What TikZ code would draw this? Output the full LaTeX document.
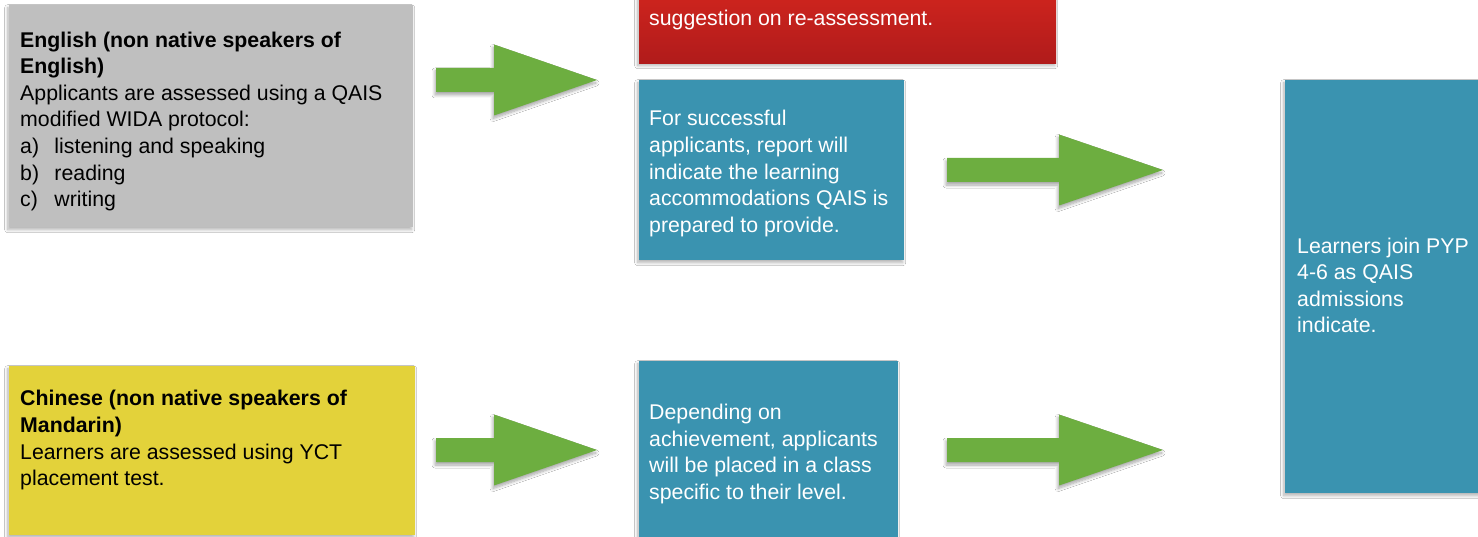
\documentclass[tikz,border=0pt]{standalone}
\usepackage{fontspec}
\setmainfont{Liberation Sans}
\usetikzlibrary{shadows.blur}
\definecolor{boxgray}{HTML}{BFBFBF}
\definecolor{boxyellow}{HTML}{E3D23A}
\definecolor{boxblue}{HTML}{3A93B0}
\definecolor{arrowgreen}{HTML}{6DAE40}
\definecolor{redtop}{HTML}{D4261E}
\definecolor{redbot}{HTML}{B01B1B}
\newcommand{\fstrut}{\rule{0pt}{17.5pt}}
\newcommand{\lbl}[1]{\makebox[34.3pt][l]{#1}}
\tikzset{
  pics/greenarrow/.style args={#1/#2}{code={
    \fill[arrowgreen, arrowsh] (0,-12) -- (#1,-12) -- (#1,-35.5) -- (#2,0)
      -- (#1,35.5) -- (#1,12) -- (0,12) -- cycle;
  }}
}
\begin{document}
\begin{tikzpicture}[x=1pt,y=-1pt,
  panel/.style={rectangle, inner sep=0pt, anchor=north west, draw=none},
  boxsh/.style={blur shadow={shadow xshift=-1.5pt, shadow yshift=-2.5pt, shadow blur radius=3pt, shadow blur steps=8, shadow opacity=30}},
  arrowsh/.style={blur shadow={shadow xshift=-1pt, shadow yshift=-3pt, shadow blur radius=3pt, shadow blur steps=8, shadow opacity=35}},
  txt/.style={anchor=north west, inner sep=0pt, align=left, font=\fontsize{21.3}{26.6}\selectfont},
  wtxt/.style={txt, text=white}]
\useasboundingbox (0,0) rectangle (1478,537);
\clip (0,0) rectangle (1478,537);
\fill[white] (0,0) rectangle (1478,537);

% panels
\node[panel, boxsh, fill=boxgray, minimum width=404pt, minimum height=222pt] (eng) at (9,5) {};
\node[panel, boxsh, fill=boxyellow, minimum width=406pt, minimum height=169pt] (chi) at (9,366) {};
\node[panel, boxsh, top color=redtop, bottom color=redbot, minimum width=417pt, minimum height=83pt] (red) at (639,-20) {};
\node[panel, boxsh, fill=boxblue, minimum width=265pt, minimum height=180pt] (blueA) at (639,80) {};
\node[panel, boxsh, fill=boxblue, minimum width=259pt, minimum height=190pt] (blueB) at (639,361) {};
\node[panel, boxsh, fill=boxblue, minimum width=210pt, minimum height=413pt] (blueC) at (1285,80) {};

% arrows
\pic at (436,80) {greenarrow=58/161};
\pic at (436,450) {greenarrow=58/161};
\pic at (947,170) {greenarrow=112/216};
\pic at (947,450) {greenarrow=112/216};

% texts
\node[txt] (engtxt) at (20,29.5) {\fstrut\textbf{English (non native speakers of}\\
  \textbf{English)}\\
  Applicants are assessed using a QAIS\\
  modified WIDA protocol:\\
  \lbl{a)}listening and speaking\\
  \lbl{b)}reading\\
  \lbl{c)}writing};
\node[txt] (chitxt) at (20,388.2) {\fstrut\textbf{Chinese (non native speakers of}\\
  \textbf{Mandarin)}\\
  Learners are assessed using YCT\\
  placement test.};
\node[wtxt] (redtxt) at (649,7.5) {\fstrut suggestion on re-assessment.};
\node[wtxt] (blueAtxt) at (649,108.2) {\fstrut For successful\\
  applicants, report will\\
  indicate the learning\\
  accommodations QAIS is\\
  prepared to provide.};
\node[wtxt] (blueBtxt) at (649,401.8) {\fstrut Depending on\\
  achievement, applicants\\
  will be placed in a class\\
  specific to their level.};
\node[wtxt] (blueCtxt) at (1297,235.5) {\fstrut Learners join PYP\\
  4-6 as QAIS\\
  admissions\\
  indicate.};
\end{tikzpicture}
\end{document}
